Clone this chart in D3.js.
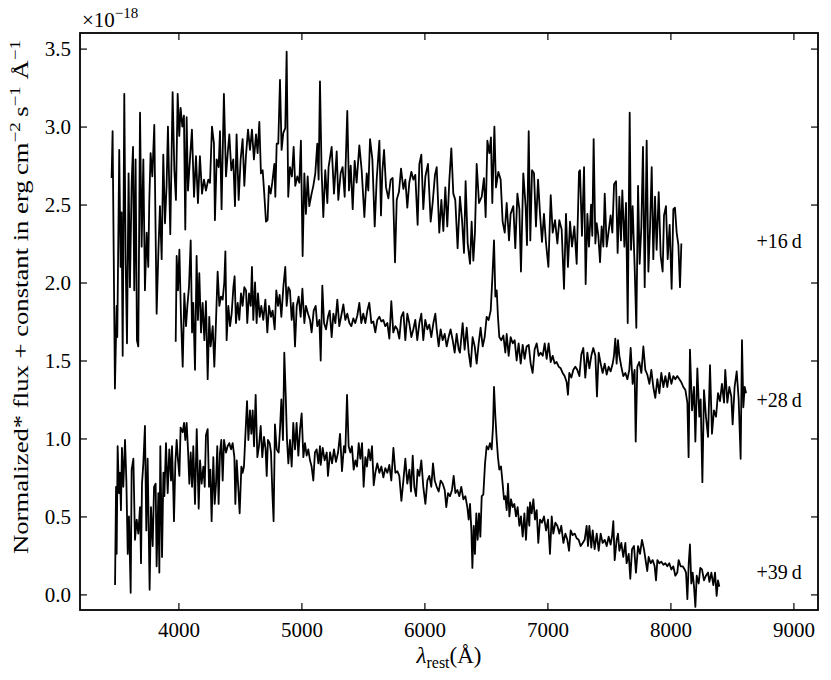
<!DOCTYPE html>
<html><head><meta charset="utf-8">
<script src="https://cdn.jsdelivr.net/npm/d3@7"></script>
<style>body{margin:0;background:#fff}svg text{font-family:"Liberation Serif","Times New Roman",serif;fill:#000}</style>
</head><body><svg id="c" width="831" height="680"></svg>
<script>
// ---- data (rest wavelength in Å, normalized flux + constant, units of 1e-18) ----
const xTicks = [4000, 5000, 6000, 7000, 8000, 9000];
const yTicks = [0.0, 0.5, 1.0, 1.5, 2.0, 2.5, 3.0, 3.5];
const epochs = ["+16 d", "+28 d", "+39 d"];

const spec16 = [[3457,2.67],[3465,2.97],[3484,1.32],[3498,1.85],[3503,1.65],[3519,2.85],[3530,2.10],[3538,2.45],[3547,1.53],[3560,3.21],[3571,2.15],[3582,1.61],[3595,2.70],[3606,1.97],[3620,2.64],[3631,2.87],[3641,1.95],[3652,2.79],[3663,1.63],[3674,1.59],[3688,3.09],[3701,2.23],[3715,2.79],[3728,1.95],[3742,2.32],[3755,2.10],[3763,2.51],[3774,2.83],[3788,2.68],[3804,3.01],[3823,1.80],[3837,2.19],[3850,2.49],[3864,2.15],[3877,2.82],[3891,2.38],[3904,2.62],[3915,3.00],[3934,2.31],[3953,3.22],[3967,2.72],[3980,2.53],[3994,3.21],[4007,2.94],[4018,3.12],[4032,3.00],[4045,3.07],[4056,2.34],[4067,3.06],[4078,2.59],[4094,2.79],[4110,2.98],[4127,2.55],[4143,2.81],[4159,2.51],[4175,2.81],[4192,2.57],[4208,2.66],[4224,2.59],[4243,2.66],[4257,2.64],[4273,3.00],[4289,2.89],[4297,2.40],[4311,2.79],[4327,2.74],[4338,2.97],[4351,2.47],[4370,3.21],[4387,2.68],[4403,2.85],[4414,2.95],[4430,2.72],[4446,2.79],[4460,2.49],[4473,2.95],[4490,2.53],[4506,2.79],[4522,2.92],[4536,2.62],[4549,2.81],[4566,2.98],[4582,2.85],[4598,2.98],[4614,2.79],[4631,2.95],[4644,2.83],[4658,3.03],[4671,2.70],[4685,2.72],[4698,2.57],[4712,2.39],[4725,2.40],[4736,2.62],[4750,2.57],[4763,2.64],[4780,2.76],[4788,2.55],[4799,2.89],[4812,2.89],[4826,3.30],[4839,2.85],[4853,2.96],[4869,2.99],[4880,3.48],[4893,2.55],[4907,2.74],[4923,2.68],[4937,2.87],[4950,2.62],[4967,2.68],[4983,2.64],[4996,2.91],[5010,2.17],[5024,2.70],[5037,2.44],[5051,2.68],[5064,2.49],[5083,2.57],[5097,2.62],[5113,2.70],[5129,2.89],[5140,2.66],[5151,3.29],[5164,2.72],[5178,2.42],[5194,2.72],[5211,2.51],[5221,2.74],
[5246,2.87],[5265,2.57],[5287,2.84],[5300,2.53],[5319,2.70],[5335,2.74],[5352,2.55],[5373,3.10],[5387,2.59],[5401,2.75],[5417,2.47],[5433,2.78],[5449,2.64],[5471,2.88],[5490,2.72],[5512,2.42],[5531,2.70],[5544,2.59],[5558,2.92],[5577,2.79],[5596,2.36],[5612,2.66],[5634,2.91],[5647,2.43],[5658,2.71],[5672,2.85],[5688,2.61],[5707,2.54],[5726,2.66],[5742,2.67],[5761,2.13],[5775,2.53],[5793,2.58],[5810,2.73],[5829,2.60],[5845,2.66],[5861,2.48],[5877,2.64],[5894,2.71],[5910,2.66],[5926,2.69],[5945,2.37],[5959,2.76],[5975,2.82],[5991,2.47],[6008,2.68],[6029,2.76],[6051,2.39],[6067,2.51],[6086,2.69],[6100,2.74],[6121,2.32],[6138,2.53],[6154,2.33],[6170,2.61],[6186,2.36],[6203,2.66],[6219,2.86],[6235,2.57],[6251,2.53],[6270,2.22],[6289,2.55],[6306,2.40],[6322,2.19],[6335,2.65],[6352,2.25],[6371,2.12],[6384,2.39],[6398,2.14],[6411,2.32],[6425,2.76],[6444,2.51],[6466,2.55],[6484,2.67],[6498,2.42],[6512,2.91],[6528,2.83],[6541,2.93],[6552,2.51],[6569,3.00],[6582,2.61],[6601,2.71],[6620,2.66],[6636,2.39],[6653,2.32],[6669,2.51],[6688,2.27],[6701,2.44],[6723,2.49],[6739,2.22],[6756,2.57],[6772,2.47],[6785,2.07],[6804,2.70],[6823,2.49],[6834,2.24],[6848,2.97],[6861,2.27],[6875,2.72],[6891,2.70],[6907,2.36],[6924,2.66],[6940,2.44],[6956,2.26],[6972,2.44],[6989,2.25],[7008,2.10],[7027,2.56],[7043,2.32],[7062,2.40],[7081,2.25],[7097,2.40],[7116,2.34],[7135,1.96],[7151,2.44],[7167,2.10],[7184,2.39],[7200,2.23],[7219,2.36],[7238,2.12],[7257,2.71],
[7265,2.72],[7281,2.30],[7298,2.74],[7311,1.99],[7325,2.44],[7338,2.23],[7355,2.50],[7365,2.30],[7376,2.92],[7390,2.25],[7401,2.38],[7414,2.30],[7428,2.13],[7441,2.36],[7455,2.23],[7466,2.57],[7482,2.23],[7498,2.33],[7514,2.43],[7528,2.32],[7542,2.63],[7558,2.65],[7571,2.19],[7585,2.55],[7598,2.27],[7609,2.59],[7626,2.23],[7639,2.51],[7653,1.74],[7669,3.09],[7680,2.21],[7693,2.49],[7710,2.08],[7723,1.71],[7737,2.62],[7750,2.12],[7764,2.36],[7777,2.87],[7791,1.97],[7807,2.91],[7821,2.07],[7834,2.34],[7848,2.74],[7861,2.15],[7875,2.55],[7888,2.21],[7905,2.58],[7921,2.17],[7937,2.07],[7948,2.43],[7964,2.49],[7978,2.15],[7994,2.37],[8010,1.96],[8024,2.47],[8037,2.48],[8051,2.32],[8065,2.24],[8078,1.97],[8089,2.25]];

const spec28 = [[3978,1.62],[3986,2.17],[3997,1.95],[4008,2.21],[4021,1.78],[4035,1.46],[4048,1.93],[4062,1.72],[4073,1.85],[4086,1.97],[4100,2.27],[4111,1.68],[4121,1.87],[4135,1.44],[4148,2.17],[4159,1.76],[4170,2.06],[4184,1.68],[4197,1.87],[4211,1.63],[4224,1.88],[4238,1.38],[4251,1.78],[4262,1.59],[4279,1.72],[4292,1.46],[4306,1.76],[4319,2.07],[4333,1.85],[4346,1.91],[4360,1.89],[4373,2.00],[4382,2.20],[4392,1.63],[4406,1.85],[4420,1.72],[4433,1.80],[4447,1.97],[4457,2.04],[4468,1.74],[4482,1.87],[4495,1.76],[4509,1.93],[4522,1.85],[4536,1.97],[4550,1.95],[4560,1.74],[4574,1.93],[4588,1.85],[4598,2.10],[4609,1.76],[4623,2.00],[4636,1.74],[4647,1.93],[4661,1.78],[4674,1.85],[4690,1.76],[4707,1.89],[4723,1.68],[4737,1.85],[4753,1.78],[4766,1.82],[4783,1.70],[4796,1.95],[4810,1.85],[4823,1.92],[4837,1.78],[4853,1.97],[4869,2.10],[4880,1.85],[4894,1.97],[4907,1.95],[4921,1.76],[4934,1.87],[4948,1.59],[4962,1.85],[4978,1.91],[4994,1.78],[5008,1.96],[5024,1.74],[5037,1.85],[5054,1.80],[5070,1.76],[5083,1.68],[5100,1.82],[5116,1.85],[5129,1.72],[5146,1.76],[5157,1.50],[5170,1.98],[5184,1.74],[5200,1.70],[5216,1.78],[5230,1.82],[5246,1.65],[5260,1.80],[5276,1.74],[5292,1.89],[5308,1.72],[5325,1.79],[5341,1.86],[5357,1.76],[5373,1.80],[5390,1.74],[5406,1.72],[5422,1.77],[5438,1.74],[5455,1.79],[5471,1.87],[5487,1.74],[5503,1.80],[5520,1.74],[5536,1.82],[5552,1.87],[5569,1.74],[5585,1.75],[5601,1.68],[5617,1.76],[5634,1.78],[5650,1.75],[5666,1.76],[5682,1.72],[5699,1.74],[5715,1.64],[5731,1.88],[5747,1.68],[5764,1.72],[5780,1.70],[5796,1.64],[5812,1.78],[5829,1.81],[5845,1.63],[5861,1.80],[5877,1.74],[5894,1.65],[5910,1.70],[5926,1.76],[5942,1.63],[5959,1.74],[5975,1.80],[5991,1.63],[6007,1.76],[6024,1.70],[6040,1.73],[6056,1.65],[6073,1.74],[6089,1.80],[6100,1.70],[6116,1.59],[6132,1.70],[6148,1.63],[6165,1.67],[6181,1.59],[6197,1.65],[6213,1.70],[6230,1.63],[6246,1.55],[6262,1.67],[6279,1.57],
[6289,1.55],[6311,1.74],[6327,1.57],[6344,1.71],[6360,1.55],[6376,1.46],[6392,1.65],[6409,1.59],[6425,1.48],[6441,1.61],[6457,1.71],[6474,1.59],[6490,1.65],[6506,1.78],[6522,1.76],[6539,1.82],[6552,2.02],[6566,2.27],[6577,1.91],[6588,1.95],[6598,1.78],[6609,1.65],[6625,1.63],[6642,1.66],[6658,1.55],[6669,1.67],[6685,1.53],[6701,1.65],[6718,1.61],[6734,1.63],[6750,1.50],[6766,1.61],[6783,1.48],[6799,1.60],[6815,1.51],[6831,1.59],[6848,1.60],[6864,1.48],[6880,1.42],[6896,1.57],[6913,1.61],[6929,1.53],[6945,1.55],[6962,1.53],[6978,1.61],[6994,1.51],[7010,1.61],[7027,1.49],[7043,1.53],[7059,1.48],[7075,1.49],[7092,1.46],[7108,1.45],[7124,1.42],[7140,1.40],[7157,1.36],[7167,1.28],[7178,1.42],[7195,1.39],[7211,1.44],[7227,1.46],[7243,1.44],[7260,1.40],[7276,1.54],[7292,1.58],[7308,1.39],[7325,1.55],[7341,1.45],[7357,1.53],[7373,1.58],[7390,1.53],[7403,1.27],[7417,1.55],[7433,1.48],[7449,1.42],[7466,1.48],[7482,1.41],[7498,1.46],[7514,1.43],[7531,1.48],[7541,1.53],[7552,1.64],[7563,1.48],[7574,1.63],[7585,1.53],[7601,1.46],[7617,1.40],[7634,1.42],[7650,1.38],[7666,1.44],[7677,1.58],[7693,1.35],[7709,1.44],[7718,0.98],[7731,1.46],[7747,1.49],[7764,1.42],[7780,1.59],[7796,1.44],[7812,1.41],[7829,1.35],[7845,1.44],[7861,1.33],[7877,1.26],[7894,1.38],[7910,1.29],[7926,1.42],[7943,1.33],[7959,1.40],[7975,1.33],[7991,1.42],[8008,1.35],[8024,1.40],[8040,1.38],[8056,1.40],[8073,1.38],[8089,1.36],[8105,1.33],[8122,1.31],[8138,1.23],[8148,0.88],[8159,1.57],[8176,1.18],[8192,1.33],[8203,0.98],[8219,1.45],[8235,1.14],[8246,1.25],[8260,0.72],[8273,1.31],[8289,1.14],[8306,1.01],[8322,1.47],[8338,1.03],[8354,1.18],[8371,1.14],[8387,1.29],[8403,1.24],[8419,1.35],[8436,1.23],[8446,1.44],[8463,1.23],[8479,1.33],[8495,1.27],[8506,1.09],[8522,1.33],[8539,1.43],[8555,1.25],[8571,0.87],[8582,1.63],[8593,1.20],[8604,1.33],[8615,1.29]];

const spec39 = [[3485,0.06],[3493,0.69],[3498,0.26],[3506,0.95],[3517,0.65],[3525,0.78],[3533,0.54],[3541,0.94],[3552,0.69],[3566,0.99],[3577,0.73],[3588,0.26],[3598,0.50],[3612,0.01],[3620,0.80],[3634,0.87],[3647,0.35],[3661,0.48],[3674,0.39],[3688,0.56],[3696,0.20],[3704,0.71],[3715,0.84],[3728,1.08],[3739,0.41],[3750,0.87],[3766,0.03],[3777,0.56],[3791,0.31],[3802,0.69],[3815,0.71],[3823,0.18],[3837,0.65],[3845,0.14],[3853,0.95],[3867,0.24],[3878,0.78],[3886,0.63],[3899,0.97],[3913,0.65],[3926,0.93],[3940,0.73],[3948,0.95],[3959,0.65],[3964,0.47],[3975,0.84],[3986,0.99],[3997,0.86],[4008,0.76],[4018,1.07],[4035,1.04],[4046,1.10],[4056,0.99],[4067,1.10],[4078,0.93],[4089,0.71],[4100,0.91],[4111,0.69],[4121,0.95],[4135,0.58],[4149,1.06],[4165,0.55],[4176,0.86],[4189,0.71],[4203,0.82],[4214,0.69],[4224,1.02],[4238,1.06],[4249,0.69],[4260,0.80],[4270,0.47],[4284,0.88],[4295,0.58],[4306,0.71],[4316,0.95],[4327,0.58],[4338,0.91],[4349,0.99],[4360,0.73],[4371,0.99],[4387,0.91],[4400,0.95],[4414,0.97],[4428,0.93],[4441,0.97],[4455,0.88],[4463,0.58],[4474,0.86],[4485,0.71],[4498,0.52],[4512,0.82],[4522,0.78],[4533,0.82],[4544,1.01],[4558,1.24],[4569,0.99],[4582,1.18],[4593,1.03],[4604,1.18],[4615,0.95],[4628,1.28],[4642,0.88],[4655,0.95],[4669,1.08],[4682,0.88],[4696,1.01],[4709,0.93],[4718,0.76],[4728,0.99],[4742,0.97],[4753,0.91],[4764,0.65],[4774,0.47],[4785,1.09],[4799,0.93],[4815,0.91],[4826,1.06],[4837,1.25],[4850,0.99],[4861,1.55],[4872,1.29],[4883,0.99],[4894,0.84],[4907,0.99],[4921,0.82],[4934,1.10],[4948,0.93],[4961,1.10],[4975,0.89],[4989,1.06],[5002,1.16],[5016,0.88],[5029,0.97],[5043,0.89],[5056,0.93],[5070,0.86],[5083,0.82],[5097,0.73],[5110,0.91],[5124,0.93],[5138,0.84],[5151,0.95],
[5157,0.83],[5173,0.94],[5189,0.86],[5206,0.91],[5216,0.76],[5233,0.91],[5249,0.84],[5265,0.93],[5281,0.85],[5298,0.91],[5314,1.03],[5330,0.79],[5346,0.95],[5357,0.91],[5371,1.28],[5384,0.95],[5398,0.91],[5411,0.95],[5425,0.80],[5439,0.86],[5452,0.82],[5466,0.97],[5479,0.87],[5493,0.97],[5506,0.69],[5520,0.88],[5533,0.82],[5547,0.93],[5561,0.86],[5574,0.95],[5588,0.70],[5601,0.78],[5617,0.84],[5634,0.78],[5650,0.82],[5666,0.75],[5682,0.81],[5699,0.78],[5715,0.83],[5731,0.73],[5748,0.94],[5764,0.78],[5780,0.79],[5796,0.76],[5813,0.60],[5829,0.73],[5845,0.87],[5861,0.71],[5878,0.80],[5891,0.66],[5905,0.89],[5918,0.69],[5932,0.63],[5945,0.80],[5959,0.76],[5975,0.86],[5991,0.69],[6008,0.58],[6024,0.73],[6040,0.76],[6056,0.69],[6070,0.84],[6084,0.73],[6100,0.69],[6116,0.66],[6132,0.73],[6149,0.71],[6165,0.67],[6178,0.56],[6192,0.65],[6208,0.63],[6224,0.67],[6238,0.76],[6252,0.65],[6268,0.67],[6284,0.63],[6300,0.69],[6317,0.61],[6333,0.63],[6349,0.56],[6360,0.48],[6371,0.58],[6382,0.41],[6390,0.17],[6401,0.44],[6411,0.26],[6422,0.52],[6433,0.35],[6444,0.52],[6455,0.37],[6466,0.63],[6479,0.64],[6493,0.84],[6506,0.95],[6520,0.93],[6533,0.97],[6547,0.93],[6558,1.08],[6566,1.33],[6577,1.14],[6588,0.99],[6598,0.88],[6609,0.80],[6623,0.82],[6636,0.71],[6647,0.61],[6658,0.63],[6669,0.54],[6680,0.71],[6691,0.50],[6704,0.61],[6718,0.56],[6731,0.58],[6745,0.50],[6758,0.56],[6772,0.44],[6785,0.50],[6799,0.37],[6813,0.52],[6826,0.35],[6840,0.56],[6853,0.44],
[6859,0.59],[6872,0.52],[6886,0.61],[6899,0.48],[6913,0.54],[6926,0.33],[6940,0.48],[6956,0.46],[6972,0.50],[6989,0.41],[7005,0.48],[7021,0.26],[7035,0.50],[7048,0.39],[7065,0.46],[7081,0.44],[7097,0.39],[7113,0.44],[7130,0.33],[7146,0.39],[7162,0.35],[7176,0.28],[7189,0.41],[7205,0.38],[7222,0.39],[7238,0.36],[7254,0.35],[7270,0.31],[7287,0.33],[7303,0.35],[7319,0.44],[7330,0.31],[7341,0.44],[7357,0.30],[7368,0.41],[7384,0.29],[7401,0.39],[7417,0.28],[7433,0.39],[7449,0.33],[7466,0.35],[7482,0.31],[7498,0.37],[7514,0.32],[7525,0.37],[7536,0.47],[7547,0.22],[7563,0.35],[7574,0.39],[7585,0.28],[7601,0.33],[7617,0.24],[7634,0.33],[7644,0.20],[7661,0.26],[7674,0.10],[7688,0.29],[7704,0.31],[7720,0.14],[7737,0.31],[7753,0.26],[7769,0.35],[7785,0.29],[7802,0.20],[7812,0.15],[7823,0.24],[7840,0.20],[7856,0.22],[7872,0.18],[7883,0.09],[7894,0.22],[7910,0.20],[7926,0.21],[7943,0.19],[7959,0.20],[7975,0.18],[7991,0.20],[8008,0.16],[8024,0.18],[8040,0.12],[8056,0.14],[8067,0.22],[8083,0.18],[8100,0.18],[8116,0.16],[8127,0.14],[8138,-0.03],[8149,0.20],[8159,0.32],[8170,0.07],[8181,0.14],[8192,0.05],[8203,-0.08],[8214,0.12],[8230,0.07],[8243,0.17],[8257,0.16],[8273,0.09],[8289,0.12],[8306,0.14],[8317,0.08],[8333,0.14],[8349,0.06],[8363,0.14],[8376,-0.01],[8387,0.09],[8398,0.05]];

const spectra = [spec16, spec28, spec39];
const labelFlux = [2.22, 1.20, 0.10];   // flux level of each epoch label
const labelWave = 8700;

// ---- layout ----
const L = 80, R = 818, T = 33, B = 610;
const svg = d3.select("#c");
const x = d3.scaleLinear().domain([3200, 9200]).range([L, R]);
const y = d3.scaleLinear().domain([-0.1, 3.6]).range([B, T]);
const FS = 20;

const line = d3.line().x(d => x(d[0])).y(d => y(d[1]));
svg.append("g").selectAll("path.spec").data(spectra).join("path")
  .attr("class", "spec").attr("d", line)
  .attr("fill", "none").attr("stroke", "#000").attr("stroke-width", 1.8)
  .attr("stroke-linejoin", "round");

// axes (ticks pointing inward)
function styleAxis(g) {
  g.select(".domain").remove();
  g.selectAll(".tick line").attr("stroke", "#000").attr("stroke-width", 1.2);
  g.selectAll(".tick text").attr("font-size", 21).attr("fill", "#000");
}
svg.append("g").attr("transform", `translate(0,${B})`)
  .call(d3.axisBottom(x).tickValues(xTicks).tickSize(-7).tickPadding(12).tickFormat(d3.format("d"))).call(styleAxis);
svg.append("g").attr("transform", `translate(0,${T})`)
  .call(d3.axisTop(x).tickValues(xTicks).tickSize(-7).tickFormat("")).call(styleAxis);
svg.append("g").attr("transform", `translate(${L},0)`)
  .call(d3.axisLeft(y).tickValues(yTicks).tickSize(-7).tickPadding(9).tickFormat(d3.format(".1f"))).call(styleAxis);
svg.append("g").attr("transform", `translate(${R},0)`)
  .call(d3.axisRight(y).tickValues(yTicks).tickSize(-7).tickFormat("")).call(styleAxis);

svg.append("rect").attr("x", L).attr("y", T).attr("width", R - L).attr("height", B - T)
  .attr("fill", "none").attr("stroke", "#000").attr("stroke-width", 1.8);

// epoch labels
svg.selectAll("text.ep").data(epochs).join("text").attr("class", "ep")
  .attr("x", x(labelWave)).attr("y", (d, i) => y(labelFlux[i]))
  .attr("font-size", FS).text(d => d.replace(" ", "\u2009"));

// offset text
const off = svg.append("text").attr("x", 82).attr("y", 27).attr("font-size", 21);
off.append("tspan").text("×10");
off.append("tspan").attr("dy", -9).attr("font-size", 15).text("\u221218");

// x label
const xl = svg.append("text").attr("x", (L + R) / 2).attr("y", 663).attr("text-anchor", "middle").attr("font-size", 23);
xl.append("tspan").attr("font-style", "italic").text("λ");
xl.append("tspan").attr("dy", 5).attr("font-size", 16).text("rest");
xl.append("tspan").attr("dy", -5).text("(Å)");

// y label (stretched along its length like the reference)
const yl = svg.append("text").attr("transform", `translate(28,297) rotate(-90) scale(1.27,1)`)
  .attr("text-anchor", "middle").attr("font-size", 21);
yl.append("tspan").text("Normalized* flux + constant in erg\u2009cm");
yl.append("tspan").attr("dy", -8).attr("font-size", 15).text("\u22122");
yl.append("tspan").attr("dy", 8).text("\u2009s");
yl.append("tspan").attr("dy", -8).attr("font-size", 15).text("\u22121");
yl.append("tspan").attr("dy", 8).text(" Å");
yl.append("tspan").attr("dy", -8).attr("font-size", 15).text("\u22121");
</script></body></html>
